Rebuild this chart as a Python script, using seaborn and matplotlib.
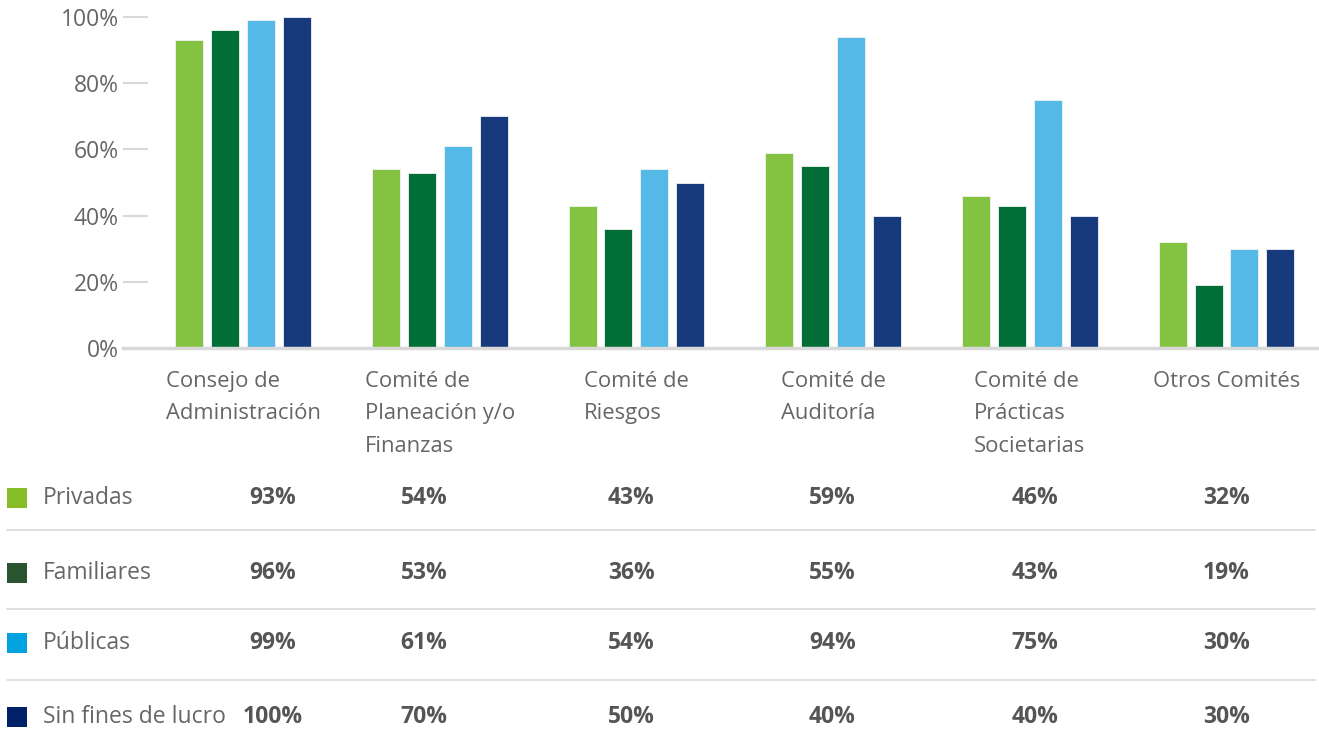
import matplotlib
matplotlib.use("Agg")
import matplotlib.pyplot as plt
from matplotlib.patches import Rectangle
from matplotlib.lines import Line2D
from matplotlib.ticker import PercentFormatter
import seaborn as sns
import pandas as pd

categories = [
    "Consejo de\nAdministración",
    "Comité de\nPlaneación y/o\nFinanzas",
    "Comité de\nRiesgos",
    "Comité de\nAuditoría",
    "Comité de\nPrácticas\nSocietarias",
    "Otros Comités",
]
series = ["Privadas", "Familiares", "Públicas", "Sin fines de lucro"]
privadas = [93, 54, 43, 59, 46, 32]
familiares = [96, 53, 36, 55, 43, 19]
publicas = [99, 61, 54, 94, 75, 30]
sin_fines = [100, 70, 50, 40, 40, 30]
yticks = [0, 20, 40, 60, 80, 100]

bar_colors = ["#84c341", "#006e36", "#55b9e8", "#173a7c"]
key_colors = ["#86bc25", "#2b5530", "#00a3e0", "#012169"]

values = [privadas, familiares, publicas, sin_fines]
df = pd.DataFrame(
    [
        {"categoria": c, "tipo": s, "valor": v}
        for s, vals in zip(series, values)
        for c, v in zip(categories, vals)
    ]
)

sns.set_theme(style="white")
plt.rcParams["font.family"] = ["Open Sans", "DejaVu Sans"]

W, H = 1319, 732
FS = 16.5
fig = plt.figure(figsize=(W / 100, H / 100), dpi=100)
ax = fig.add_axes([123 / W, (H - 348) / H, (1319 - 123) / W, (348 - 17) / H])

sns.barplot(
    data=df, x="categoria", y="valor", hue="tipo", order=categories,
    hue_order=series, palette=bar_colors, saturation=1, width=0.73, gap=0.22,
    edgecolor="#f2f2f2", linewidth=0.6, legend=False, ax=ax,
)

ax.set_xlim(-0.61, 5.47)
ax.set_ylim(0, 100)
ax.set_yticks(yticks)
ax.yaxis.set_major_formatter(PercentFormatter(decimals=0))
ax.set_xticks([])
ax.set_xlabel("")
ax.set_ylabel("")
for side in ["top", "right", "left"]:
    ax.spines[side].set_visible(False)
ax.spines["bottom"].set_color("#d9d9d9")
ax.spines["bottom"].set_linewidth(2.5)
ax.tick_params(axis="y", direction="in", length=18, width=1.5,
               color="#d9d9d9", pad=3, labelsize=FS, labelcolor="#666666",
               left=True)

# Category labels: left-aligned blocks centred under each group
for i, cat in enumerate(categories):
    ax.text(i, -6.8, cat, ha="center", va="top", multialignment="left",
            fontsize=15.8, color="#666666", linespacing=1.72, clip_on=False)

# Value table with colour keys
col_x = [0.15, 0.92, 1.975, 2.995, 4.025, 5.0]
row_y = [498, 573, 643, 717]
sep_y = [530, 609, 680]
blend = matplotlib.transforms.blended_transform_factory(ax.transData, fig.transFigure)

for r, (name, vals, kc) in enumerate(zip(series, values, key_colors)):
    yf = (H - row_y[r]) / H
    fig.add_artist(Rectangle((7 / W, yf - 10 / H), 20 / W, 20 / H,
                             transform=fig.transFigure, color=kc, lw=0))
    fig.text(43 / W, yf, name, ha="left", va="center", fontsize=FS,
             color="#666666")
    for x, v in zip(col_x, vals):
        ax.text(x, yf, f"{v}%", transform=blend, ha="center", va="center",
                fontsize=FS, fontweight="bold", color="#555555", clip_on=False)

for y in sep_y:
    yf = (H - y) / H
    fig.add_artist(Line2D([7 / W, 1315 / W], [yf, yf], transform=fig.transFigure,
                          color="#d9d9d9", lw=1.2))

fig.savefig("out.png", dpi=100)
